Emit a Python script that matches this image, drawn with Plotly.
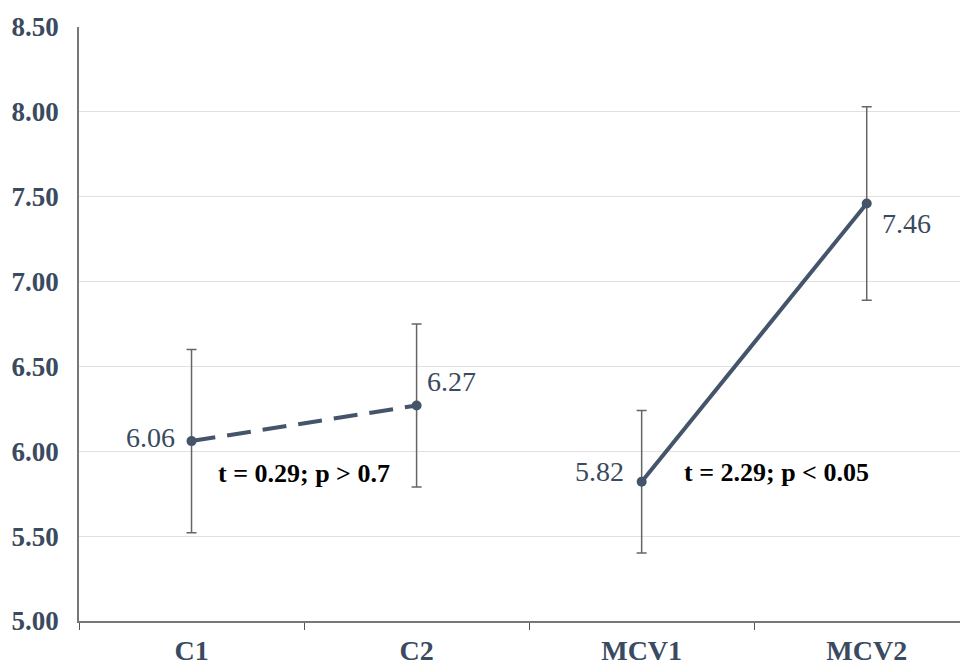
import plotly.graph_objects as go

categories = ["C1", "C2", "MCV1", "MCV2"]
control_x = ["C1", "C2"]
control_y = [6.06, 6.27]
control_err = [0.54, 0.48]
mcv_x = ["MCV1", "MCV2"]
mcv_y = [5.82, 7.46]
mcv_err = [0.42, 0.57]
y_ticks = [5.0, 5.5, 6.0, 6.5, 7.0, 7.5, 8.0, 8.5]
stat_texts = ["t = 0.29; p > 0.7", "t = 2.29; p < 0.05"]

LINE = "#44546a"
TXT = "#3a4a60"
ERR = "#666666"

fig = go.Figure()
fig.add_trace(go.Scatter(
    x=control_x, y=control_y, mode="lines+markers",
    line=dict(color=LINE, width=4, dash="24px,12px"),
    marker=dict(size=10, color=LINE),
    error_y=dict(type="data", array=control_err, color=ERR, thickness=1.5, width=5),
    showlegend=False))
fig.add_trace(go.Scatter(
    x=mcv_x, y=mcv_y, mode="lines+markers",
    line=dict(color=LINE, width=4),
    marker=dict(size=10, color=LINE),
    error_y=dict(type="data", array=mcv_err, color=ERR, thickness=1.5, width=5),
    showlegend=False))

label_font = dict(family="Liberation Serif", size=28, color=TXT)
shifts = [(-15, 4, "right"), (8, 24, "left"), (-16, 10, "right"), (13, -20, "left")]
all_x = control_x + mcv_x
all_y = control_y + mcv_y
for (xs, ys, anc), xv, yv in zip(shifts, all_x, all_y):
    fig.add_annotation(x=xv, y=yv, text=f"{yv:.2f}", showarrow=False,
                       xanchor=anc, xshift=xs, yshift=ys, font=label_font)

stat_font = dict(family="Liberation Serif", size=26, color="#000000")
fig.add_annotation(x=0.5, y=control_y[0], text=f"<b>{stat_texts[0]}</b>", showarrow=False,
                   xanchor="center", yshift=-32, font=stat_font)
fig.add_annotation(x=2.6, y=mcv_y[0], text=f"<b>{stat_texts[1]}</b>", showarrow=False,
                   xanchor="center", yshift=9, font=stat_font)

fig.update_layout(
    width=960, height=658,
    margin=dict(l=71, r=0, t=19, b=38),
    paper_bgcolor="white", plot_bgcolor="white",
    font=dict(family="Liberation Serif", color=TXT),
    xaxis=dict(type="category", categoryorder="array", categoryarray=categories,
               range=[-0.5, 3.45], tickson="boundaries", ticks="outside", ticklen=7,
               tickcolor="#555555", showline=True, linecolor="#777777", linewidth=1.5,
               showgrid=False, ticklabelstandoff=4,
               tickfont=dict(family="Liberation Serif", size=28, color=TXT),
               tickvals=categories, ticktext=[f"<b>{c}</b>" for c in categories]),
    yaxis=dict(range=[5.0, 8.5], tickvals=y_ticks,
               ticktext=[f"<b>{v:.2f}</b>" for v in y_ticks],
               showgrid=True, gridcolor="#e0e0e0", gridwidth=1.2,
               showline=True, linecolor="#777777", linewidth=1.5,
               zeroline=False, ticks="", ticklabelstandoff=13,
               tickfont=dict(family="Liberation Serif", size=27, color=TXT)),
)

fig.write_html("out.html")
